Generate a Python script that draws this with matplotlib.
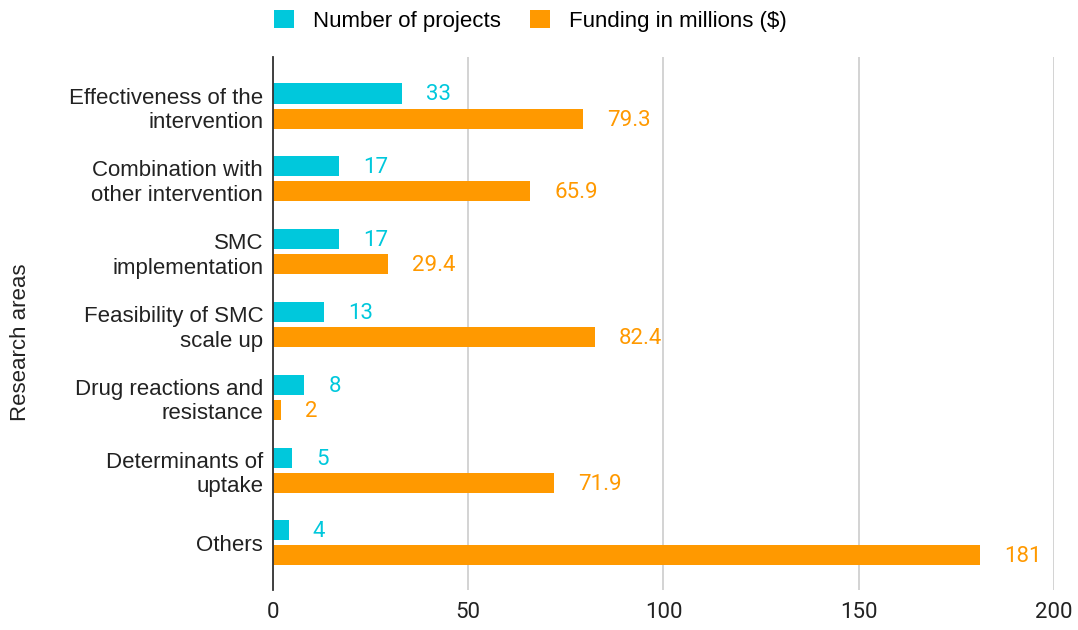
import matplotlib.pyplot as plt
import numpy as np
from matplotlib.patches import Patch

plt.rcParams['font.family'] = ['Liberation Sans', 'DejaVu Sans']

categorias = ["Effectiveness of the\nintervention", "Combination with\nother intervention",
              "SMC\nimplementation", "Feasibility of SMC\nscale up",
              "Drug reactions and\nresistance", "Determinants of\nuptake", "Others"]
projetos = [33, 17, 17, 13, 8, 5, 4]
financiamento = [79.3, 65.9, 29.4, 82.4, 2, 71.9, 181]
rotulos_fin = ["79.3", "65.9", "29.4", "82.4", "2", "71.9", "181"]

cor1 = "#00C8DC"
cor2 = "#FF9900"

fig = plt.figure(figsize=(10.78, 6.3), dpi=100)
ax = fig.add_axes([0.2532, 0.0635, 0.7245, 0.846])

y = np.arange(len(categorias))
h = 0.275
off = 0.172

#Barras
ax.barh(y - off, projetos, height=h, color=cor1, zorder=3)
ax.barh(y + off, financiamento, height=h, color=cor2, zorder=3)

#Rótulos de valor
for i in range(len(categorias)):
    ax.text(projetos[i] + 6.2, y[i] - off + 0.02, str(projetos[i]), color=cor1,
            fontsize=16, va="center", ha="left", family="Roboto")
    ax.text(financiamento[i] + 6.2, y[i] + off + 0.02, rotulos_fin[i], color=cor2,
            fontsize=16, va="center", ha="left", family="Roboto")

ax.set_xlim(0, 200)
ax.set_ylim(6.646, -0.673)
ax.set_xticks([0, 50, 100, 150, 200])
ax.set_xticklabels(["0", "50", "100", "150", "200"], family="Roboto", fontsize=16)
ax.set_yticks(y)
ax.set_yticklabels(categorias, fontsize=16, ha="right", linespacing=1.22)
ax.tick_params(axis="x", length=0, pad=9, colors="#222222")
ax.tick_params(axis="y", length=0, pad=7, colors="#222222")
ax.grid(axis="x", color="#cccccc", linewidth=1.2, zorder=0)

for s in ["top", "right", "bottom"]:
    ax.spines[s].set_visible(False)
ax.spines["left"].set_color("#333333")
ax.spines["left"].set_linewidth(1.3)
ax.spines["left"].set_zorder(4)

fig.text(0.009, 0.457, "Research areas", rotation=90, va="center", ha="left",
         fontsize=16, color="#222222")

#Legenda
legenda = [Patch(facecolor=cor1, label="Number of projects"),
           Patch(facecolor=cor2, label="Funding in millions ($)")]
fig.legend(handles=legenda, loc="center", bbox_to_anchor=(0.492, 0.967), ncol=2,
           frameon=False, fontsize=16, handlelength=0.9, handleheight=0.9,
           handletextpad=0.85, columnspacing=1.3)

plt.savefig("out.png", dpi=100)
